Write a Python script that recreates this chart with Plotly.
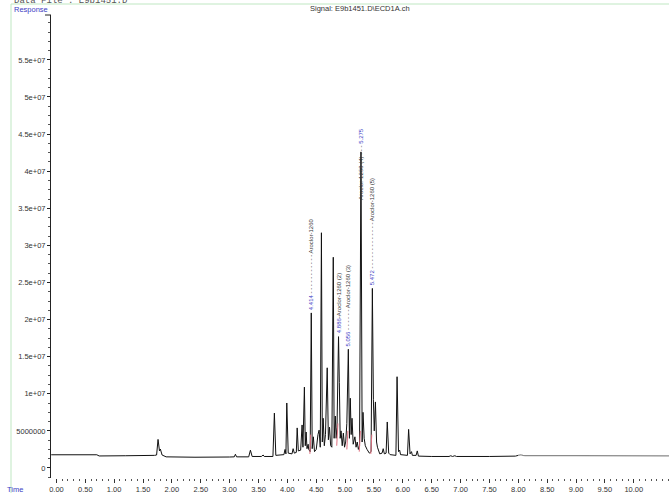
import plotly.graph_objects as go

# ---------------- data ----------------
# chromatogram vertices: (retention time in min, response in millions of counts)
chromatogram = [
    (-0.09, 1.78), (0.70, 1.78), (0.74, 1.62), (1.20, 1.65), (1.70, 1.70),
    (1.735, 1.75), (1.76, 3.85), (1.785, 2.30), (1.80, 2.55), (1.83, 1.75), (1.90, 1.50),
    (2.40, 1.45), (3.00, 1.48), (3.08, 1.50), (3.10, 1.85), (3.12, 1.50),
    (3.33, 1.50), (3.36, 2.40), (3.39, 1.55), (3.55, 1.55), (3.58, 1.75), (3.60, 1.55),
    (3.75, 1.55), (3.775, 7.40), (3.80, 1.70), (3.94, 1.80), (3.96, 2.50), (3.975, 1.90),
    (3.99, 8.76), (4.015, 2.00), (4.08, 1.90), (4.10, 2.60), (4.12, 2.00),
    (4.155, 2.10), (4.17, 5.40), (4.19, 2.30), (4.23, 2.40), (4.255, 5.80), (4.27, 2.80),
    (4.295, 10.9), (4.31, 3.00), (4.325, 4.85), (4.34, 2.60), (4.36, 3.20), (4.37, 2.50),
    (4.395, 2.20), (4.414, 20.9), (4.43, 2.60), (4.45, 4.20), (4.47, 2.20), (4.50, 2.50),
    (4.53, 4.50), (4.55, 5.10), (4.57, 2.80), (4.59, 31.7), (4.605, 3.50), (4.62, 6.70),
    (4.64, 3.00), (4.66, 4.50), (4.69, 13.5), (4.71, 3.80), (4.73, 5.50), (4.75, 3.00),
    (4.77, 2.80), (4.795, 28.4), (4.81, 4.00), (4.83, 7.00), (4.845, 4.00), (4.86, 5.50),
    (4.886, 17.7), (4.90, 11.5), (4.915, 4.00), (4.93, 5.00), (4.95, 3.00), (4.97, 4.70),
    (4.99, 2.80), (5.01, 3.50), (5.03, 6.00), (5.056, 16.0), (5.075, 4.00), (5.09, 9.40),
    (5.105, 4.50), (5.12, 6.70), (5.14, 3.20), (5.17, 4.20), (5.19, 2.80), (5.21, 3.50),
    (5.23, 2.50), (5.25, 3.00), (5.275, 42.6), (5.295, 3.50), (5.31, 7.50), (5.33, 4.00),
    (5.35, 3.00), (5.38, 2.50), (5.42, 2.00), (5.45, 2.20), (5.472, 24.2), (5.49, 9.20),
    (5.505, 5.00), (5.525, 8.90), (5.545, 3.50), (5.56, 2.80), (5.60, 1.90), (5.64, 2.00),
    (5.66, 2.60), (5.68, 1.90), (5.71, 2.00), (5.73, 6.20), (5.755, 2.00), (5.78, 1.80),
    (5.88, 1.70), (5.90, 12.3), (5.925, 2.20), (5.945, 2.40), (5.96, 1.80), (6.08, 1.70),
    (6.10, 5.20), (6.125, 1.90), (6.15, 2.20), (6.165, 1.70), (6.23, 1.70), (6.25, 2.30),
    (6.27, 1.60), (6.50, 1.55), (6.80, 1.55), (6.83, 1.65), (6.86, 1.55), (6.90, 1.65),
    (6.93, 1.55), (7.50, 1.55), (7.95, 1.60), (8.00, 1.70),
]
# later part of the run, drawn in grey
chromatogram_tail = [
    (8.00, 1.70), (8.04, 1.78), (8.08, 1.70), (8.12, 1.66), (9.00, 1.66), (10.61, 1.64),
]
# pink integration marks at the foot of the identified peaks
integration_marks = [
    [(4.39, 1.9), (4.405, 4.5)],
    [(4.855, 3.0), (4.875, 6.0)],
    [(5.03, 2.5), (5.048, 5.0)],
    [(5.245, 2.2), (5.265, 5.0)],
    [(5.445, 1.9), (5.462, 4.5)],
]

peak_rt = [4.414, 4.886, 5.056, 5.275, 5.472]
peak_height = [20.9, 17.7, 16.0, 42.6, 24.2]      # millions of counts
peak_name = ["Aroclor-1260", "Aroclor-1260 (2)", "Aroclor-1260 (3)",
             "Aroclor-1260 (4)", "Aroclor-1260 (5)"]

y_tick_vals = [0, 5e6, 1e7, 1.5e7, 2e7, 2.5e7, 3e7, 3.5e7, 4e7, 4.5e7, 5e7, 5.5e7]
y_tick_text = ["0", "5000000", "1e+07", "1.5e+07", "2e+07", "2.5e+07", "3e+07",
               "3.5e+07", "4e+07", "4.5e+07", "5e+07", "5.5e+07"]
x_tick_vals = [0, 0.5, 1, 1.5, 2, 2.5, 3, 3.5, 4, 4.5, 5, 5.5, 6, 6.5, 7, 7.5,
               8, 8.5, 9, 9.5, 10]
x_tick_text = ["0.00", "0.50", "1.00", "1.50", "2.00", "2.50", "3.00", "3.50",
               "4.00", "4.50", "5.00", "5.50", "6.00", "6.50", "7.00", "7.50",
               "8.00", "8.50", "9.00", "9.50", "10.00"]

title_text = "Signal: E9b1451.D\\ECD1A.ch"
file_text = "Data File : E9b1451.D"

# ---------------- styling / layout ----------------
W, H = 669, 493
L, R, T, B = 51, 0, 15, 15
PW, PH = W - L - R, H - T - B
XR = [-0.094, 10.61]
YR = [-1.35e6, 6.105e7]

def px(xp):
    return (xp - L) / PW

def py(yp):
    return (H - B - yp) / PH

M = 1e6
BLUE = "#3c3cc4"
FONT = "Liberation Sans, Arial, sans-serif"

fig = go.Figure()
fig.add_trace(go.Scatter(
    x=[p[0] for p in chromatogram], y=[p[1] * M for p in chromatogram],
    mode="lines", line=dict(color="#111111", width=1, simplify=False),
    hoverinfo="skip"))
fig.add_trace(go.Scatter(
    x=[p[0] for p in chromatogram_tail], y=[p[1] * M for p in chromatogram_tail],
    mode="lines", line=dict(color="#8a8a8a", width=1.2, simplify=False),
    hoverinfo="skip"))
mx, my = [], []
for seg in integration_marks:
    for t, v in seg:
        mx.append(t)
        my.append(v * M)
    mx.append(None)
    my.append(None)
fig.add_trace(go.Scatter(x=mx, y=my, mode="lines",
                         line=dict(color="#e07080", width=1), hoverinfo="skip"))

# peak labels (rotated, reading bottom to top)
dots = {0: 10, 1: 0, 2: 5, 3: 2, 4: 12}
for i, (rt, h, name) in enumerate(zip(peak_rt, peak_height, peak_name)):
    num = f"<span style='color:{BLUE}'>{rt:.3f}</span>"
    lead = " -" + " -" * dots[i] + " " if dots[i] else "-"
    if i == 3:
        text = f"{name}{lead}{num}"
        shift = -50
    else:
        text = f"{num}{lead}{name}"
        shift = 1
    fig.add_annotation(x=rt, y=h * M, xref="x", yref="y", text=text,
                       textangle=-90, showarrow=False, xanchor="center",
                       yanchor="bottom", yshift=shift,
                       font=dict(family=FONT, size=6, color="#333333"))

fig.add_annotation(x=px(360), y=py(8), xref="paper", yref="paper", text=title_text,
                   showarrow=False, xanchor="center", yanchor="middle",
                   font=dict(family=FONT, size=7.5, color="#333333"))
fig.add_annotation(x=px(12), y=py(1), xref="paper", yref="paper", text=file_text,
                   showarrow=False, xanchor="left", yanchor="middle",
                   font=dict(family="Liberation Mono, Courier New, monospace", size=9,
                             color="#555555"))
fig.add_annotation(x=px(12), y=py(9.5), xref="paper", yref="paper", text="Response",
                   showarrow=False, xanchor="left", yanchor="middle",
                   font=dict(family=FONT, size=7.5, color=BLUE))
fig.add_annotation(x=px(5), y=py(489), xref="paper", yref="paper", text="Time",
                   showarrow=False, xanchor="left", yanchor="middle",
                   font=dict(family=FONT, size=7.5, color=BLUE))

green = "#bfe7c2"
fig.add_shape(type="line", xref="paper", yref="paper", x0=px(11), x1=px(669),
              y0=py(4), y1=py(4), line=dict(color=green, width=1))
fig.add_shape(type="line", xref="paper", yref="paper", x0=px(11), x1=px(11),
              y0=py(4), y1=py(493), line=dict(color=green, width=1))
fig.add_shape(type="line", xref="paper", yref="paper", x0=px(45), x1=px(51),
              y0=py(15), y1=py(15), line=dict(color="#222222", width=1))

fig.update_layout(
    width=W, height=H, autosize=False,
    margin=dict(l=L, r=R, t=T, b=B),
    paper_bgcolor="white", plot_bgcolor="white",
    showlegend=False,
    font=dict(family=FONT, size=7.5, color="#333333"),
    xaxis=dict(range=XR, tickvals=x_tick_vals, ticktext=x_tick_text,
               showgrid=False, zeroline=False, showline=False,
               ticks="outside", ticklen=4, tickcolor="#333333", tickwidth=1,
               minor=dict(dtick=0.1, tick0=0, ticks="outside", ticklen=2,
                          tickcolor="#555555", showgrid=False),
               tickfont=dict(family=FONT, size=7.5, color="#333333")),
    yaxis=dict(range=YR, tickvals=y_tick_vals, ticktext=y_tick_text,
               showgrid=False, zeroline=False, showline=True, linecolor="#222222",
               linewidth=1, ticks="outside", ticklen=3, tickcolor="#222222",
               minor=dict(dtick=1.25e6, tick0=0, ticks="outside", ticklen=2,
                          tickcolor="#555555", showgrid=False),
               tickfont=dict(family=FONT, size=7.5, color="#333333")),
)

fig.write_html("out.html", config={"displayModeBar": False},
               post_script="document.body.style.margin='0';")
